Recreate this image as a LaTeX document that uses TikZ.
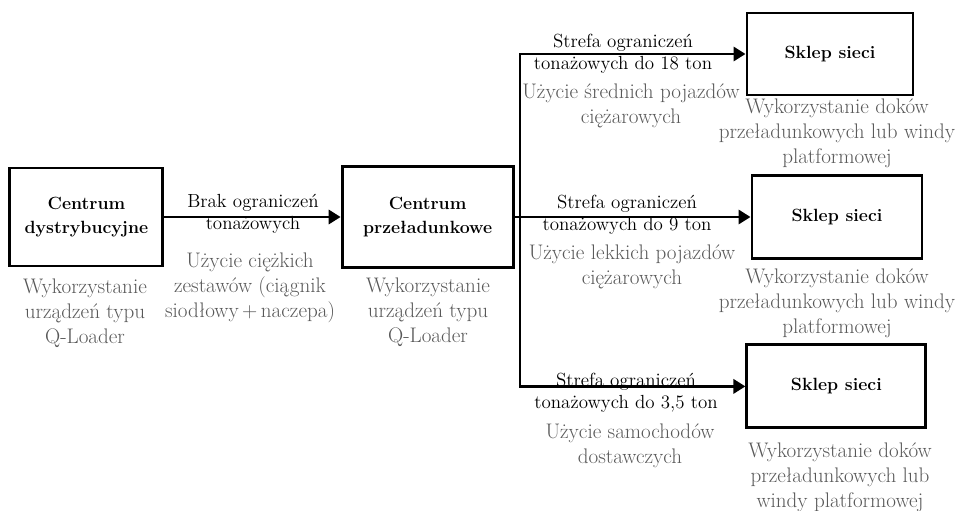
\documentclass[tikz,border=0pt]{standalone}
\usetikzlibrary{arrows.meta}
\definecolor{notegray}{RGB}{88,88,88}
\begin{document}
\begin{tikzpicture}[
  block/.style={draw=black, line width=2.1pt, align=center, inner sep=0pt,
    font=\fontsize{12.6}{17.5}\selectfont\bfseries},
  edge/.style={align=center, inner sep=0pt, font=\fontsize{13.5}{15.8}\selectfont},
  note/.style={align=center, inner sep=0pt, text=notegray,
    font=\fontsize{15}{17.8}\selectfont},
  link/.style={line width=2.1pt, -{Triangle[length=8.5pt,width=10pt]}}
]
  \useasboundingbox (0, 0) rectangle (23.875, 12.75);

  \node (b1) at (2.16, 7.325)   [block, minimum width=3.825cm, minimum height=2.45cm]  {Centrum\\dystrybucyjne};
  \node (b2) at (10.69, 7.325)  [block, minimum width=4.275cm, minimum height=2.525cm] {Centrum\\przeładunkowe};
  \node (b3) at (20.75, 11.4)   [block, minimum width=4.15cm, minimum height=2.05cm]   {Sklep sieci};
  \node (b4) at (20.925, 7.325) [block, minimum width=4.25cm, minimum height=2.075cm]  {Sklep sieci};
  \node (b5) at (20.91, 3.09)   [block, minimum width=4.475cm, minimum height=2.075cm] {Sklep sieci};
  \coordinate (jn) at (13.0, 7.325);

  \node (n1) at (2.125, 4.925) [note] {Wykorzystanie\\urządzeń typu\\Q-Loader};
  \node (n2) at (10.7, 4.95)   [note] {Wykorzystanie\\urządzeń typu\\Q-Loader};
  \node (n3) at (20.925, 9.425) [note] {Wykorzystanie doków\\przeładunkowych lub windy\\platformowej};
  \node (n4) at (20.925, 5.175) [note] {Wykorzystanie doków\\przeładunkowych lub windy\\platformowej};
  \node (n5) at (21.0, 0.825)   [note] {Wykorzystanie doków\\przeładunkowych lub\\windy platformowej};

  \node (e1) at (6.325, 7.4)    [edge] {Brak ograniczeń\\tonażowych};
  \node (u1) at (6.25, 5.55)    [note] {Użycie ciężkich\\zestawów (ciągnik\\siodłowy\,+\,naczepa)};
  \node (e2) at (15.575, 11.41) [edge] {Strefa ograniczeń\\tonażowych do 18 ton};
  \node (u2) at (15.775, 10.11) [note] {Użycie średnich pojazdów\\ciężarowych};
  \node (e3) at (15.675, 7.39)  [edge] {Strefa ograniczeń\\tonażowych do 9 ton};
  \node (u3) at (15.8, 6.09)    [note] {Użycie lekkich pojazdów\\ciężarowych};
  \node (e4) at (15.65, 2.925)  [edge] {Strefa ograniczeń\\tonażowych do 3,5 ton};
  \node (u4) at (15.75, 1.61)   [note] {Użycie samochodów\\dostawczych};

  \draw [link] (b1) -- (b2);
  \draw [link] (b2) -- (b4);
  \draw [link] (jn) |- (b3);
  \draw [link] (jn) |- (b5);
\end{tikzpicture}
\end{document}
